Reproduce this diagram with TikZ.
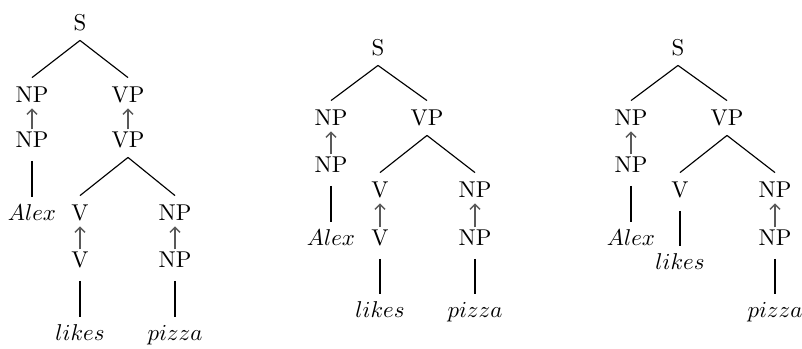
\documentclass[tikz,border=0pt]{standalone}
\usetikzlibrary{arrows.meta}
\begin{document}
\begin{tikzpicture}[x=0.437pt,y=-0.437pt,
  lab/.style={inner sep=0pt, outer xsep=0pt, outer ysep=4.2pt, text height=6.83pt, text depth=0pt, anchor=center},
  br/.style={line width=0.5pt},
  stem/.style={line width=1pt, shorten <=1.5pt, shorten >=-0.8pt},
  uparr/.style={draw=black!65, line width=0.65pt, -{Straight Barb[length=2.2pt,width=4.4pt]}, shorten <=-3pt, shorten >=-1.8pt}]
\useasboundingbox (0,0) rectangle (802,348);
% ---------- tree 1 ----------
\node[lab] (aS) at (80,23) {S};
\node[lab] (aNP) at (32,95) {NP};
\node[lab] (aVP) at (128,95) {VP};
\node[lab] (aNPb) at (32,140) {NP};
\node[lab] (aVPb) at (128,140) {VP};
\node[lab] (aAlex) at (32,213) {$Alex$};
\node[lab] (aV) at (80,213) {V};
\node[lab] (aNP2) at (175,213) {NP};
\node[lab] (aVb) at (80,260) {V};
\node[lab] (aNP2b) at (175,260) {NP};
\node[lab] (alikes) at (80,333) {$likes$};
\node[lab] (apizza) at (175,333) {$pizza$};
\draw[br] (aS.south) -- (aNP.north);
\draw[br] (aS.south) -- (aVP.north);
\draw[uparr] (aNPb.north) -- (aNP.south);
\draw[uparr] (aVPb.north) -- (aVP.south);
\draw[stem] (aNPb.south) -- (aAlex.north);
\draw[br] (aVPb.south) -- (aV.north);
\draw[br] (aVPb.south) -- (aNP2.north);
\draw[uparr] (aVb.north) -- (aV.south);
\draw[uparr] (aNP2b.north) -- (aNP2.south);
\draw[stem] (aVb.south) -- (alikes.north);
\draw[stem] (aNP2b.south) -- (apizza.north);
% ---------- tree 2 ----------
\node[lab] (bS) at (378,48) {S};
\node[lab] (bNP) at (331,118) {NP};
\node[lab] (bVP) at (427,118) {VP};
\node[lab] (bNPb) at (331,165) {NP};
\node[lab] (bV) at (380,190) {V};
\node[lab] (bNP2) at (475,190) {NP};
\node[lab] (bAlex) at (331,238) {$Alex$};
\node[lab] (bVb) at (380,238) {V};
\node[lab] (bNP2b) at (475,238) {NP};
\node[lab] (blikes) at (380,310) {$likes$};
\node[lab] (bpizza) at (475,310) {$pizza$};
\draw[br] (bS.south) -- (bNP.north);
\draw[br] (bS.south) -- (bVP.north);
\draw[uparr] (bNPb.north) -- (bNP.south);
\draw[stem] (bNPb.south) -- (bAlex.north);
\draw[br] (bVP.south) -- (bV.north);
\draw[br] (bVP.south) -- (bNP2.north);
\draw[uparr] (bVb.north) -- (bV.south);
\draw[uparr] (bNP2b.north) -- (bNP2.south);
\draw[stem] (bVb.south) -- (blikes.north);
\draw[stem] (bNP2b.south) -- (bpizza.north);
% ---------- tree 3 ----------
\node[lab] (cS) at (678,48) {S};
\node[lab] (cNP) at (631,118) {NP};
\node[lab] (cVP) at (727,118) {VP};
\node[lab] (cNPb) at (631,165) {NP};
\node[lab] (cV) at (680,190) {V};
\node[lab] (cNP2) at (775,190) {NP};
\node[lab] (cAlex) at (631,238) {$Alex$};
\node[lab] (clikes) at (680,262) {$likes$};
\node[lab] (cNP2b) at (775,238) {NP};
\node[lab] (cpizza) at (775,310) {$pizza$};
\draw[br] (cS.south) -- (cNP.north);
\draw[br] (cS.south) -- (cVP.north);
\draw[uparr] (cNPb.north) -- (cNP.south);
\draw[stem] (cNPb.south) -- (cAlex.north);
\draw[br] (cVP.south) -- (cV.north);
\draw[br] (cVP.south) -- (cNP2.north);
\draw[stem] (cV.south) -- (clikes.north);
\draw[uparr] (cNP2b.north) -- (cNP2.south);
\draw[stem] (cNP2b.south) -- (cpizza.north);
\end{tikzpicture}
\end{document}
